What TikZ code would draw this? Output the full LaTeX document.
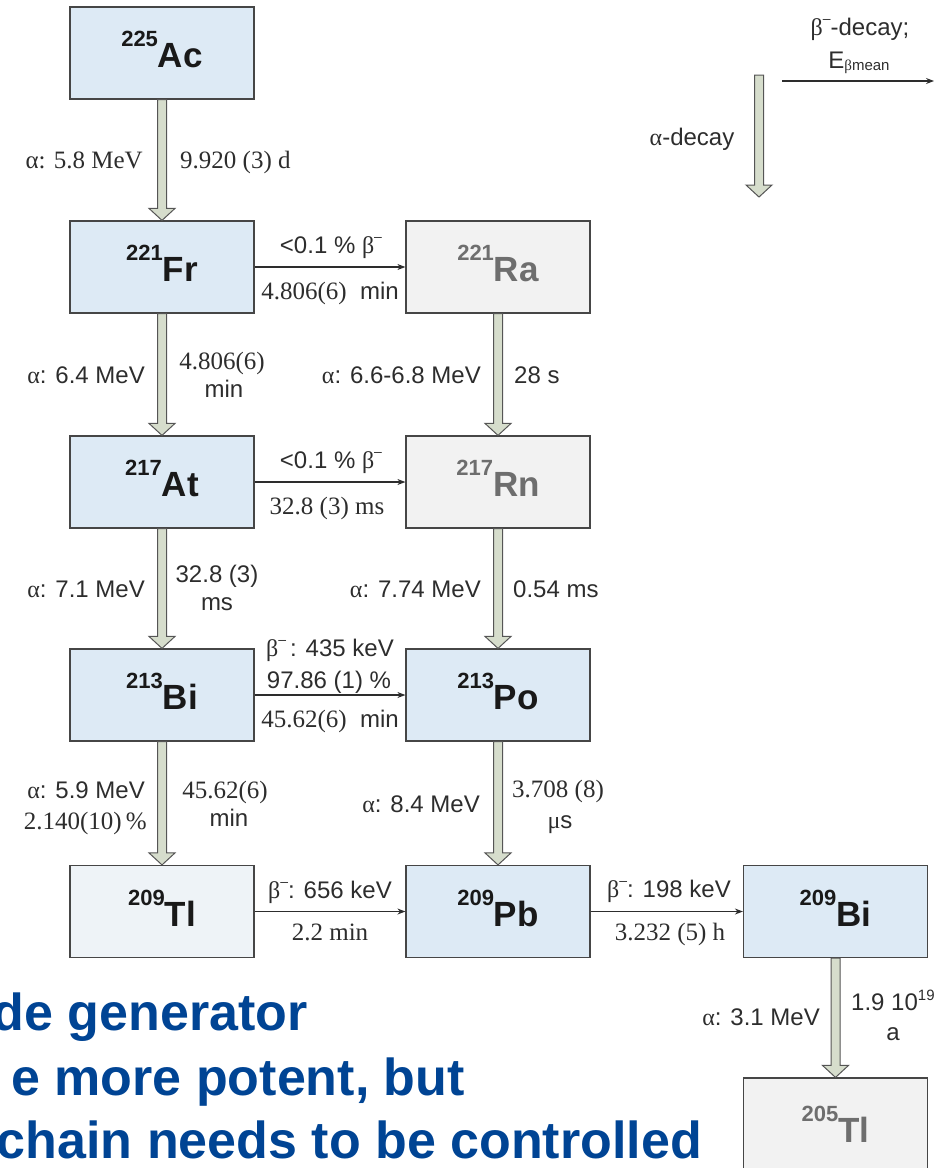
\documentclass[tikz,border=0pt]{standalone}
\usepackage{fontspec}
\setmainfont{Liberation Serif}
\setsansfont{Liberation Sans}
\usetikzlibrary{calc,arrows.meta}

\definecolor{boxblue}{RGB}{221,234,245}
\definecolor{boxgray}{RGB}{242,242,242}
\definecolor{boxpale}{RGB}{238,243,247}
\definecolor{boxline}{RGB}{70,70,70}
\definecolor{arrfill}{RGB}{214,221,204}
\definecolor{arrline}{RGB}{85,85,85}
\definecolor{lbltext}{RGB}{45,45,45}
\definecolor{nuctext}{RGB}{25,25,25}
\definecolor{nucgray}{RGB}{110,110,110}
\definecolor{slideblue}{RGB}{0,68,148}

% nuclide label: mass number as a raised prefix, element symbol large
\newcommand\nuc[2]{\rule[-7pt]{0pt}{0pt}\raisebox{21pt}{\fontsize{22}{22}\selectfont #1}\fontsize{35}{35}\selectfont #2}
\newcommand\al{{\rmfamily α}}
\newcommand\bminus{{\rmfamily β}\raisebox{12pt}{\fontsize{14}{14}\selectfont –}}
% hollow alpha-decay arrow pointing down from #1 to #2
\newcommand\adown[2]{\draw[alphaarr] let \p1=(#1), \p2=(#2) in
  (\x1-4.5pt,\y1) -- (\x1-4.5pt,\y2+12pt) -- (\x1-13pt,\y2+12pt) -- (\x1,\y2)
  -- (\x1+13pt,\y2+12pt) -- (\x1+4.5pt,\y2+12pt) -- (\x1+4.5pt,\y1) -- cycle;}

\begin{document}
\begin{tikzpicture}[x=1pt,y=-1pt,
  nucbox/.style={draw=boxline, line width=1.2pt, minimum width=184pt,
    minimum height=92pt, inner sep=0pt, font=\sffamily\bfseries},
  bluebox/.style={nucbox, fill=boxblue, text=nuctext},
  palebox/.style={nucbox, fill=boxpale, text=nuctext},
  graybox/.style={nucbox, fill=boxgray, text=nucgray},
  alphaarr/.style={draw=arrline, fill=arrfill, line width=1pt, line join=miter},
  betaarr/.style={draw=lbltext, line width=1.1pt, -{Stealth[length=8pt,width=6pt]}},
  lbl/.style={inner sep=0pt, text=lbltext, font=\sffamily\fontsize{24}{28}\selectfont},
  lblr/.style={inner sep=0pt, text=lbltext, font=\rmfamily\fontsize{25}{28}\selectfont},
  slide/.style={inner sep=0pt, text=slideblue, anchor=base east,
    font=\sffamily\bfseries\fontsize{52}{60}\selectfont}]
\useasboundingbox (0,0) rectangle (946,1168);
\clip (0,0) rectangle (946,1168);

% nuclide boxes
\node[bluebox] (Ac)  at (162,53)    {\nuc{225}{Ac}};
\node[bluebox] (Fr)  at (162,267)   {\nuc{221}{Fr}};
\node[graybox] (Ra)  at (498,267)   {\nuc{221}{Ra}};
\node[bluebox] (At)  at (162,482)   {\nuc{217}{At}};
\node[graybox] (Rn)  at (498,482)   {\nuc{217}{Rn}};
\node[bluebox] (BiA) at (162,695)   {\nuc{213}{Bi}};
\node[bluebox] (Po)  at (498,695)   {\nuc{213}{Po}};
\node[palebox] (TlA) at (162,911.5) {\nuc{209}{Tl}};
\node[bluebox] (Pb)  at (498,911.5) {\nuc{209}{Pb}};
\node[bluebox] (BiB) at (835.5,911.5) {\nuc{209}{Bi}};
\node[graybox, minimum height=100pt] (TlB) at (835.5,1128) {\nuc{205}{Tl}};

% alpha decays
\adown{Ac.south}{Fr.north}
\adown{Fr.south}{At.north}
\adown{At.south}{BiA.north}
\adown{BiA.south}{TlA.north}
\adown{Ra.south}{Rn.north}
\adown{Rn.south}{Po.north}
\adown{Po.south}{Pb.north}
\adown{BiB.south}{TlB.north}

% beta decays
\draw[betaarr] (Fr) -- (Ra);
\draw[betaarr] (At) -- (Rn);
\draw[betaarr] (BiA) -- (Po);
\draw[betaarr] (TlA) -- (Pb);
\draw[betaarr] (Pb) -- (BiB);

% legend
\coordinate (legAtop) at (759,75);
\coordinate (legAtip) at (759,197);
\adown{legAtop}{legAtip}
\coordinate (legBs) at (782,81);
\coordinate (legBe) at (934,81);
\draw[betaarr] (legBs) -- (legBe);
\node[lbl, anchor=base] (lg1) at (860,35) {\bminus-decay;};
\node[lbl, anchor=base] (lg2) at (859,68) {E\raisebox{-2pt}{\fontsize{15}{15}\selectfont{\rmfamily β}mean}};
\node[lbl, anchor=base] (lg3) at (692,145) {\al-decay};

% 225Ac -> 221Fr
\node[lblr, anchor=base east] (l01) at (143,168) {α: 5.8 MeV};
\node[lblr, anchor=base west] (l02) at (180,168) {9.920 (3) d};
% 221Fr -> 221Ra
\node[lbl, anchor=base] (l03) at (331,253) {<0.1 \% \bminus};
\node[lbl, anchor=base] (l04) at (330,299) {{\rmfamily\fontsize{25}{28}\selectfont 4.806(6)}\ \ min};
% 221Fr -> 217At
\node[lbl, anchor=base east] (l05) at (145,383) {\al: 6.4 MeV};
\node[lblr, anchor=base] (l06) at (222,369) {4.806(6)};
\node[lbl, anchor=base] (l07) at (224,397) {min};
% 221Ra -> 217Rn
\node[lbl, anchor=base east] (l08) at (481,383) {\al: 6.6-6.8 MeV};
\node[lbl, anchor=base west] (l09) at (514,383) {28 s};
% 217At -> 217Rn
\node[lbl, anchor=base] (l10) at (331,468) {<0.1 \% \bminus};
\node[lblr, anchor=base] (l11) at (327,514) {32.8 (3) ms};
% 217At -> 213Bi
\node[lbl, anchor=base east] (l12) at (145,597) {\al: 7.1 MeV};
\node[lbl, anchor=base] (l13) at (217,582) {32.8 (3)};
\node[lbl, anchor=base] (l14) at (217,610) {ms};
% 217Rn -> 213Po
\node[lbl, anchor=base east] (l15) at (481,597) {\al: 7.74 MeV};
\node[lbl, anchor=base west] (l16) at (513,597) {0.54 ms};
% 213Bi -> 213Po
\node[lbl, anchor=base] (l17) at (330,656) {\bminus\,: 435 keV};
\node[lbl, anchor=base] (l18) at (329,688) {97.86 (1) \%};
\node[lbl, anchor=base] (l19) at (330,727) {{\rmfamily\fontsize{25}{28}\selectfont 45.62(6)}\ \ min};
% 213Bi -> 209Tl
\node[lbl, anchor=base east] (l20) at (145,798) {\al: 5.9 MeV};
\node[lblr, anchor=base east] (l21) at (147,829) {2.140(10)\,\%};
\node[lblr, anchor=base] (l22) at (225,798) {45.62(6)};
\node[lbl, anchor=base] (l23) at (229,826) {min};
% 213Po -> 209Pb
\node[lbl, anchor=base east] (l24) at (480,812) {\al: 8.4 MeV};
\node[lblr, anchor=base west] (l25) at (512,797) {3.708 (8)};
\node[lbl, anchor=base] (l26) at (560,828) {{\rmfamily μ}s};
% 209Tl -> 209Pb
\node[lbl, anchor=base] (l27) at (330,898) {\bminus: 656 keV};
\node[lblr, anchor=base] (l28) at (330,940) {2.2 min};
% 209Pb -> 209Bi
\node[lbl, anchor=base] (l29) at (669,897) {\bminus: 198 keV};
\node[lblr, anchor=base] (l30) at (670,940) {3.232 (5) h};
% 209Bi -> 205Tl
\node[lbl, anchor=base east] (l31) at (820,1025) {\al: 3.1 MeV};
\node[lbl, anchor=base west] (l32) at (851,1010) {1.9 10\raisebox{10pt}{\fontsize{15}{15}\selectfont 19}};
\node[lbl, anchor=base] (l33) at (893,1040) {a};

% slide text
\node[slide] (s1) at (308,1030) {de generator};
\node[slide] (s2) at (465,1095) {e more potent, but};
\node[slide] (s3) at (702,1158) {chain needs to be controlled};
\end{tikzpicture}
\end{document}
